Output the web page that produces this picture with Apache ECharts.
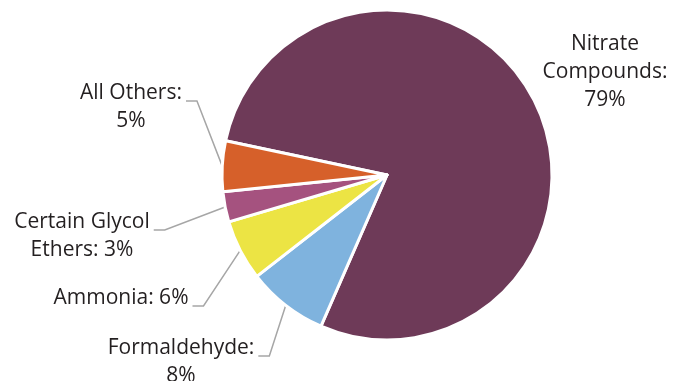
<!DOCTYPE html>
<html>
<head>
<meta charset="utf-8">
<script src="https://cdn.jsdelivr.net/npm/echarts@6/dist/echarts.min.js"></script>
<style>
  html, body { margin: 0; padding: 0; background: #ffffff; }
  #chart { width: 684px; height: 381px; }
</style>
</head>
<body>
<div id="chart"></div>
<script>
// Share of releases by chemical group (percent)
const categories = ['Nitrate Compounds', 'Formaldehyde', 'Ammonia', 'Certain Glycol Ethers', 'All Others'];
const shares = [79, 8, 6, 3, 5];
// How each label wraps: text before the value, lines split by '\n'
const labelHeads = ['Nitrate\nCompounds:\n', 'Formaldehyde:\n', 'Ammonia: ', 'Certain Glycol\nEthers: ', 'All Others:\n'];
const sliceColors = ['#6e3a58', '#7fb3de', '#ece444', '#a5527f', '#d6602a'];

// Where each label block sits (centre of the text block)
const labelSpots = [[605, 72], [181, 362], [121, 298], [82, 236], [131, 107]];
const LINE_H = 28;

const chart = echarts.init(document.getElementById('chart'), null, { renderer: 'canvas' });

const data = categories.map((name, i) => ({
  name: name,
  value: shares[i],
  itemStyle: { color: sliceColors[i] },
  labelLine: { show: i !== 0 }
}));

chart.setOption({
  animation: false,
  series: [{
    type: 'pie',
    center: [387, 175],
    radius: 165,
    startAngle: 168,
    clockwise: true,
    avoidLabelOverlap: false,
    itemStyle: { borderColor: '#ffffff', borderWidth: 3 },
    label: {
      show: true,
      position: 'outside',
      fontFamily: 'Open Sans',
      fontSize: 21,
      lineHeight: LINE_H,
      color: '#231f20',
      formatter: p => labelHeads[p.dataIndex] + p.value + '%'
    },
    labelLine: {
      show: true,
      length: 20,
      length2: 10,
      lineStyle: { color: '#a6a6a6', width: 1.5 }
    },
    labelLayout: params => {
      const i = params.dataIndex;
      const [cx, cy] = labelSpots[i];
      const w = params.labelRect.width;
      const h = params.labelRect.height;
      const out = { x: cx, y: cy, align: 'center', verticalAlign: 'middle' };
      if (i !== 0 && params.labelLinePoints) {
        const start = params.labelLinePoints[0];
        const endX = cx + w / 2 + 4;
        const endY = cy - h / 2 + LINE_H / 2 + 8;
        out.labelLinePoints = [start, [endX + 11, endY], [endX, endY]];
      }
      return out;
    },
    emphasis: { disabled: true },
    data: data
  }]
});
</script>
</body>
</html>
